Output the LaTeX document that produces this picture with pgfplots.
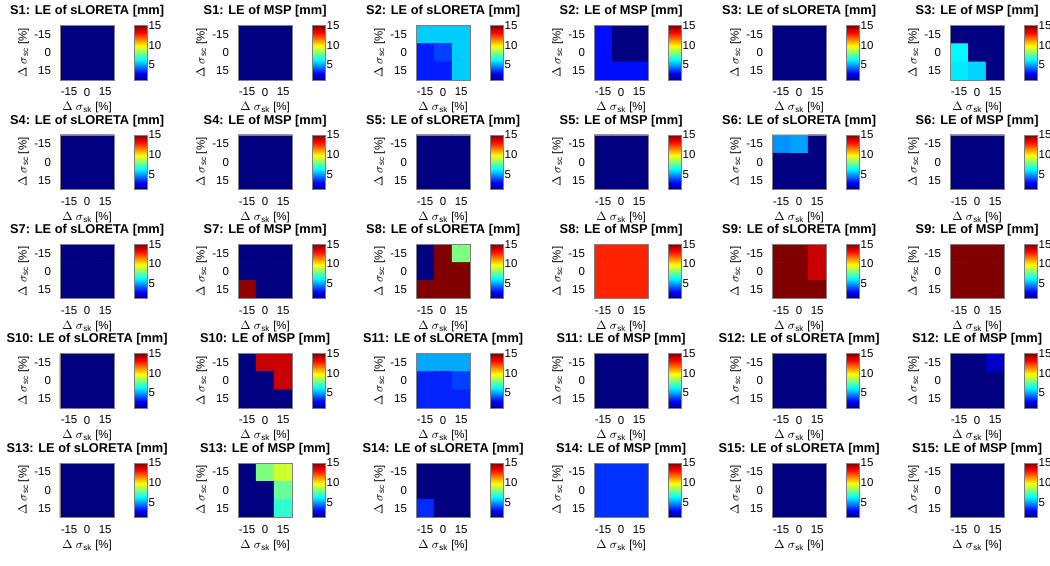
\documentclass[border=0pt]{standalone}
\usepackage{pgfplots}
\pgfplotsset{compat=1.18}
\usepackage{fontspec}
\setmainfont{Liberation Sans}

\newcommand{\tkfont}{\fontsize{8.6}{10}\selectfont}
\pgfplotsset{
 hm/.style={
  scale only axis, width=40.7pt, height=40.7pt, anchor=north west,
  axis on top,
  xmin=-22.5,xmax=22.5,ymin=-22.5,ymax=22.5, y dir=reverse, enlargelimits=false,
  xtick={-15,0,15}, ytick={-15,0,15}, xticklabels={-15,0,15}, yticklabels={-15,0,15},
  major tick length=0pt,
  axis line style={draw=black!50, line width=0.5pt},
  tick label style={font=\tkfont},
  xticklabel style={yshift=-2.6pt},
  yticklabel style={xshift=-3.3pt},
  colormap/jet, point meta min=1.2, point meta max=15,
  colorbar,
  colorbar style={
    at={(parent axis.north east)}, anchor=north west, xshift=6.5pt,
    scale only axis, width=9.5pt, height=40.7pt,
    ytick={5,10,15}, yticklabels={5,10,15},
    major tick length=0pt,
    axis line style={draw=black!50},
    yticklabel style={font=\tkfont, xshift=-2.3pt},
  },
  title style={at={(axis description cs:0.5,1)}, anchor=base, yshift=2pt, font=\bfseries\fontsize{9.6}{11}\selectfont},
  xlabel={$\Delta$ $\sigma$\textsubscript{sk} [\%]},
  ylabel={$\Delta$ $\sigma$\textsubscript{sc} [\%]},
  xlabel style={at={(axis description cs:0.5,-0.5725)}, anchor=base, font=\tkfont},
  ylabel style={at={(axis description cs:-0.614,0.5)}, anchor=base, font=\tkfont},
 }
}

\newcommand{\panel}[3]{\def\PX{#1}\def\PY{#2}\def\PT{#3}\panelB}
\newcommand{\panelB}[9]{%
\begin{axis}[hm, at={(\PX pt,-\PY pt)}, title={\PT}]
\addplot[matrix plot*, mesh/cols=3, point meta=explicit] coordinates {
(-15,-15) [#1] (0,-15) [#2] (15,-15) [#3]
(-15,0) [#4] (0,0) [#5] (15,0) [#6]
(-15,15) [#7] (0,15) [#8] (15,15) [#9]};
\end{axis}}

\begin{document}
\begin{tikzpicture}
\path[use as bounding box] (0,0) rectangle (787.5pt,-424.5pt);
% row 1
\panel{45}{19.25}{S1: LE of sLORETA [mm]}{1.2}{1.2}{1.2}{1.2}{1.2}{1.2}{1.2}{1.2}{1.2}
\panel{178.5}{19.25}{S1: LE of MSP [mm]}{1.2}{1.2}{1.2}{1.2}{1.2}{1.2}{1.2}{1.2}{1.2}
\panel{312}{19.25}{S2: LE of sLORETA [mm]}{5.7}{5.7}{5.7}{3.3}{3.8}{5.7}{3.3}{3.3}{5.7}
\panel{445.5}{19.25}{S2: LE of MSP [mm]}{3.1}{1.2}{1.2}{3.1}{1.2}{1.2}{3.1}{3.1}{3.1}
\panel{579}{19.25}{S3: LE of sLORETA [mm]}{1.2}{1.2}{1.2}{1.2}{1.2}{1.2}{1.2}{1.2}{1.2}
\panel{712.5}{19.25}{S3: LE of MSP [mm]}{1.2}{1.2}{1.2}{6.3}{1.2}{1.2}{6.1}{5.8}{1.2}
% row 2
\panel{45}{101.25}{S4: LE of sLORETA [mm]}{1.2}{1.2}{1.2}{1.2}{1.2}{1.2}{1.2}{1.2}{1.2}
\panel{178.5}{101.25}{S4: LE of MSP [mm]}{1.2}{1.2}{1.2}{1.2}{1.2}{1.2}{1.2}{1.2}{1.2}
\panel{312}{101.25}{S5: LE of sLORETA [mm]}{1.2}{1.2}{1.2}{1.2}{1.2}{1.2}{1.2}{1.2}{1.2}
\panel{445.5}{101.25}{S5: LE of MSP [mm]}{1.2}{1.2}{1.2}{1.2}{1.2}{1.2}{1.2}{1.2}{1.2}
\panel{579}{101.25}{S6: LE of sLORETA [mm]}{4.9}{5.1}{1.2}{1.2}{1.2}{1.2}{1.2}{1.2}{1.2}
\panel{712.5}{101.25}{S6: LE of MSP [mm]}{1.2}{1.2}{1.2}{1.2}{1.2}{1.2}{1.2}{1.2}{1.2}
% row 3
\panel{45}{183.25}{S7: LE of sLORETA [mm]}{1.2}{1.2}{1.2}{1.2}{1.2}{1.2}{1.2}{1.2}{1.2}
\panel{178.5}{183.25}{S7: LE of MSP [mm]}{1.2}{1.2}{1.2}{1.2}{1.2}{1.2}{14.8}{1.2}{1.2}
\panel{312}{183.25}{S8: LE of sLORETA [mm]}{1.2}{15}{8.1}{1.2}{15}{15}{15}{15}{15}
\panel{445.5}{183.25}{S8: LE of MSP [mm]}{12.8}{12.8}{12.8}{12.8}{12.8}{12.8}{12.8}{12.8}{12.8}
\panel{579}{183.25}{S9: LE of sLORETA [mm]}{15}{15}{14.0}{15}{15}{14.0}{15}{15}{15}
\panel{712.5}{183.25}{S9: LE of MSP [mm]}{15}{15}{15}{15}{15}{15}{15}{15}{15}
% row 4
\panel{45}{265.25}{S10: LE of sLORETA [mm]}{1.2}{1.2}{1.2}{1.2}{1.2}{1.2}{1.2}{1.2}{1.2}
\panel{178.5}{265.25}{S10: LE of MSP [mm]}{1.2}{14.0}{14.0}{1.2}{1.2}{14.0}{1.2}{1.2}{1.2}
\panel{312}{265.25}{S11: LE of sLORETA [mm]}{5.2}{5.2}{5.2}{3.4}{3.4}{3.8}{3.4}{3.4}{3.4}
\panel{445.5}{265.25}{S11: LE of MSP [mm]}{1.2}{1.2}{1.2}{1.2}{1.2}{1.2}{1.2}{1.2}{1.2}
\panel{579}{265.25}{S12: LE of sLORETA [mm]}{1.2}{1.2}{1.2}{1.2}{1.2}{1.2}{1.2}{1.2}{1.2}
\panel{712.5}{265.25}{S12: LE of MSP [mm]}{1.2}{1.2}{2.2}{1.2}{1.2}{1.2}{1.2}{1.2}{1.2}
% row 5
\panel{45}{347.25}{S13: LE of sLORETA [mm]}{1.2}{1.2}{1.2}{1.2}{1.2}{1.2}{1.2}{1.2}{1.2}
\panel{178.5}{347.25}{S13: LE of MSP [mm]}{1.2}{8.1}{9.2}{1.2}{1.2}{7.8}{1.2}{1.2}{7.0}
\panel{312}{347.25}{S14: LE of sLORETA [mm]}{1.2}{1.2}{1.2}{1.2}{1.2}{1.2}{3.5}{1.2}{1.2}
\panel{445.5}{347.25}{S14: LE of MSP [mm]}{3.6}{3.6}{3.6}{3.6}{3.6}{3.6}{3.6}{3.6}{3.6}
\panel{579}{347.25}{S15: LE of sLORETA [mm]}{1.2}{1.2}{1.2}{1.2}{1.2}{1.2}{1.2}{1.2}{1.2}
\panel{712.5}{347.25}{S15: LE of MSP [mm]}{1.2}{1.2}{1.2}{1.2}{1.2}{1.2}{1.2}{1.2}{1.2}
\end{tikzpicture}
\end{document}
